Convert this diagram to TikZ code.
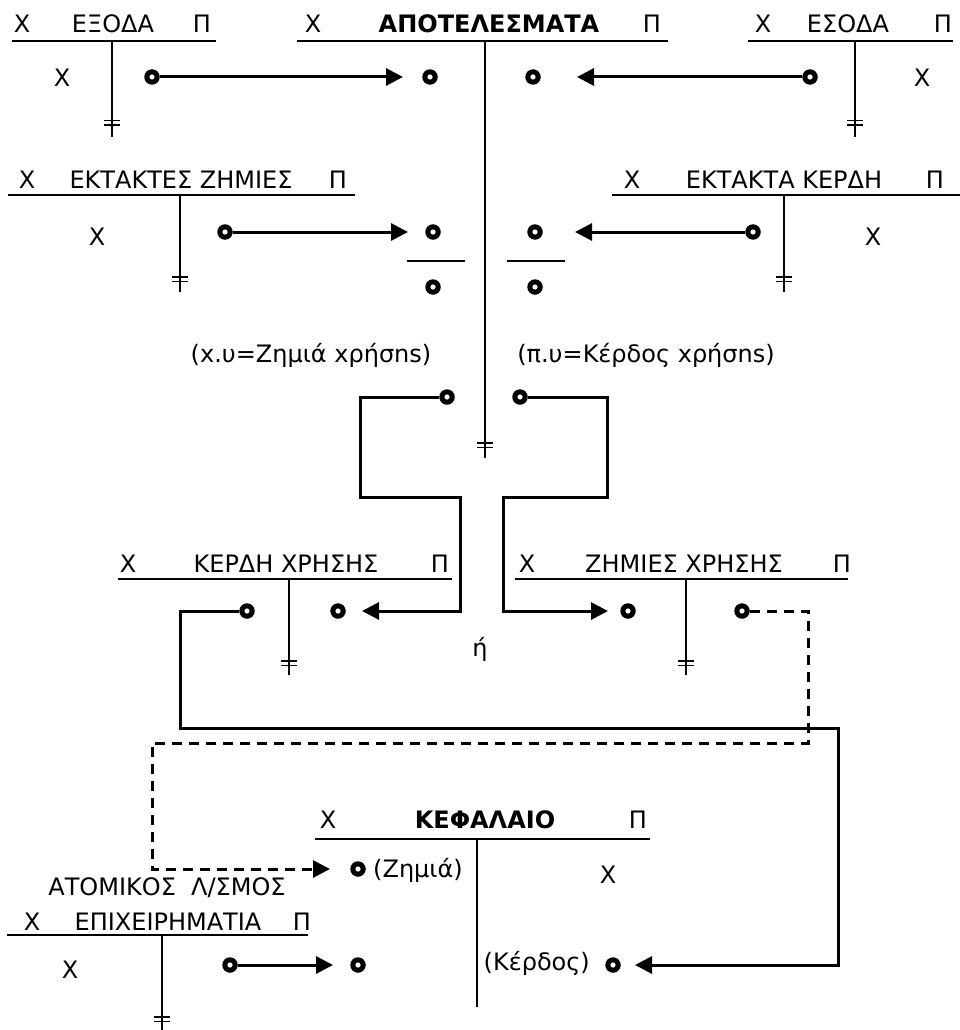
\documentclass[tikz,border=0pt]{standalone}
\usepackage{fontspec}
\setmainfont{DejaVu Sans}
\usetikzlibrary{arrows.meta}
\begin{document}
\begin{tikzpicture}[x=1pt,y=-1pt,
  txt/.style={inner sep=0pt,anchor=base,font=\fontsize{24}{29}\selectfont},
  btxt/.style={inner sep=0pt,anchor=base,font=\fontsize{24}{29}\selectfont\bfseries},
  hline/.style={line width=1.8pt},
  vline/.style={line width=1.5pt},
  fracline/.style={line width=2.4pt},
  dot/.style={circle,fill=black,minimum size=15.5pt,inner sep=0pt,outer sep=0pt,
    path picture={\fill[white] (path picture bounding box.center) circle (2.6pt);}},
  conn/.style={line width=3pt,-{Triangle[length=17pt,width=17pt]}},
  dconn/.style={conn,dash pattern=on 10pt off 7pt},
  dbltick/.pic={\draw[vline] (-8,0)--(8,0) (-8,4.5)--(8,4.5);}
]
\useasboundingbox (0,0) rectangle (960,1030);

% ---------- Row 1 ----------
% ΕΞΟΔΑ
\node[txt] (exoX) at (22,33) {Χ};
\node[txt] (exoT) at (113,33) {ΕΞΟΔΑ};
\node[txt] (exoP) at (202,33) {Π};
\draw[hline] (12,41) -- (216,41);
\draw[vline] (112,41) -- (112,137);
\pic at (112,120.5) {dbltick};
\node[txt] (exoB) at (62,87) {Χ};

% ΑΠΟΤΕΛΕΣΜΑΤΑ
\node[txt] (apX) at (313,33) {Χ};
\node[btxt] (apT) at (489,33) {ΑΠΟΤΕΛΕΣΜΑΤΑ};
\node[txt] (apP) at (652,33) {Π};
\draw[hline] (297,41) -- (668,41);
\draw[vline] (485,41) -- (485,458);
\pic at (485,443) {dbltick};

% ΕΣΟΔΑ
\node[txt] (esoX) at (763,33) {Χ};
\node[txt] (esoT) at (848,33) {ΕΣΟΔΑ};
\node[txt] (esoP) at (943,33) {Π};
\draw[hline] (748,41) -- (953,41);
\draw[vline] (855,41) -- (855,137);
\pic at (855,120.5) {dbltick};
\node[txt] (esoB) at (922,87) {Χ};

\node[dot] (dexo) at (152,77) {};
\node[dot] (dapL) at (430,77) {};
\node[dot] (dapR) at (533,77) {};
\node[dot] (deso) at (810,77) {};
\draw[conn] (dexo) -- ([xshift=-27pt]dapL.center);
\draw[conn] (deso) -- ([xshift=44pt]dapR.center);

% ---------- Row 2 ----------
% ΕΚΤΑΚΤΕΣ ΖΗΜΙΕΣ
\node[txt] (ezX) at (27,188) {Χ};
\node[txt] (ezT) at (181,188) {ΕΚΤΑΚΤΕΣ ΖΗΜΙΕΣ};
\node[txt] (ezP) at (338,188) {Π};
\draw[hline] (8,195) -- (355,195);
\draw[vline] (180,195) -- (180,292);
\pic at (180,277) {dbltick};
\node[txt] (ezB) at (97,245) {Χ};

% ΕΚΤΑΚΤΑ ΚΕΡΔΗ
\node[txt] (ekX) at (632,188) {Χ};
\node[txt] (ekT) at (784,188) {ΕΚΤΑΚΤΑ ΚΕΡΔΗ};
\node[txt] (ekP) at (935,188) {Π};
\draw[hline] (612,195) -- (960,195);
\draw[vline] (784,195) -- (784,292);
\pic at (784,277) {dbltick};
\node[txt] (ekB) at (873,245) {Χ};

\node[dot] (dekz) at (225,232) {};
\node[dot] (df1t) at (433,232) {};
\node[dot] (df1b) at (433,287) {};
\node[dot] (df2t) at (535,232) {};
\node[dot] (df2b) at (535,287) {};
\node[dot] (dekk) at (753,232) {};
\draw[fracline] (407,261) -- (465,261);
\draw[fracline] (507,261) -- (565,261);
\draw[conn] (dekz) -- ([xshift=-25pt]df1t.center);
\draw[conn] (dekk) -- ([xshift=40pt]df2t.center);

\node[txt] (lz) at (311,362) {(x.υ=Ζημιά xρήσns)};
\node[txt] (lk) at (646,362) {(π.υ=Κέρδος xρήσns)};

% ---------- Row 3 ----------
\node[dot] (dzx) at (447,397) {};
\node[dot] (dkx) at (520,397) {};

% ΚΕΡΔΗ ΧΡΗΣΗΣ
\node[txt] (kxX) at (128,572) {Χ};
\node[txt] (kxT) at (286,572) {ΚΕΡΔΗ ΧΡΗΣΗΣ};
\node[txt] (kxP) at (440,572) {Π};
\draw[hline] (118,579) -- (452,579);
\draw[vline] (289,579) -- (289,675);
\pic at (289,661) {dbltick};

% ΖΗΜΙΕΣ ΧΡΗΣΗΣ
\node[txt] (zxX) at (527,572) {Χ};
\node[txt] (zxT) at (684,572) {ΖΗΜΙΕΣ ΧΡΗΣΗΣ};
\node[txt] (zxP) at (842,572) {Π};
\draw[hline] (515,579) -- (848,579);
\draw[vline] (686,579) -- (686,675);
\pic at (686,661) {dbltick};

\node[txt] (or) at (480,656) {ή};

\node[dot] (dkxL) at (247,611) {};
\node[dot] (dkxR) at (338,611) {};
\node[dot] (dzxL) at (628,611) {};
\node[dot] (dzxR) at (742,611) {};

\draw[conn] (dzx) -- (360,397) -- (360,497) -- (460,497) -- (460,611) -- ([xshift=24pt]dkxR.center);
\draw[conn] (dkx) -- (607,397) -- (607,497) -- (503,497) -- (503,611) -- ([xshift=-20pt]dzxL.center);

% ---------- Bottom ----------
% ΚΕΦΑΛΑΙΟ
\node[txt] (kfX) at (328,828) {Χ};
\node[btxt] (kfT) at (485,828) {ΚΕΦΑΛΑΙΟ};
\node[txt] (kfP) at (638,828) {Π};
\draw[hline] (315,839) -- (650,839);
\draw[vline] (477,839) -- (477,1007);
\node[txt] (kfB) at (608,883) {Χ};

% ΑΤΟΜΙΚΟΣ Λ/ΣΜΟΣ ΕΠΙΧΕΙΡΗΜΑΤΙΑ
\node[txt] (epH) at (167,895) {ΑΤΟΜΙΚΟΣ\ \ Λ/ΣΜΟΣ};
\node[txt] (epX) at (32,930) {Χ};
\node[txt] (epT) at (168,930) {ΕΠΙΧΕΙΡΗΜΑΤΙΑ};
\node[txt] (epP) at (302,930) {Π};
\draw[hline] (7,935) -- (308,935);
\draw[vline] (162,935) -- (162,1030);
\pic at (162,1017) {dbltick};
\node[txt] (epB) at (70,978) {Χ};

\node[dot] (dzem) at (358,869) {};
\node[txt,anchor=base west] (tzem) at (373,877) {(Ζημιά)};
\node[dot] (dker) at (613,965) {};
\node[txt,anchor=base east] (tker) at (590,970) {(Κέρδος)};
\node[dot] (depS) at (230,965) {};
\node[dot] (depT) at (358,965) {};

\draw[conn] (depS) -- ([xshift=-25pt]depT.center);
\draw[conn] (dkxL) -- (180,611) -- (180,728) -- (838,728) -- (838,965) -- ([xshift=22pt]dker.center);
\draw[dconn] (dzxR) -- (808,611) -- (808,743) -- (152,743) -- (152,869) -- ([xshift=-28pt]dzem.center);

\end{tikzpicture}
\end{document}
